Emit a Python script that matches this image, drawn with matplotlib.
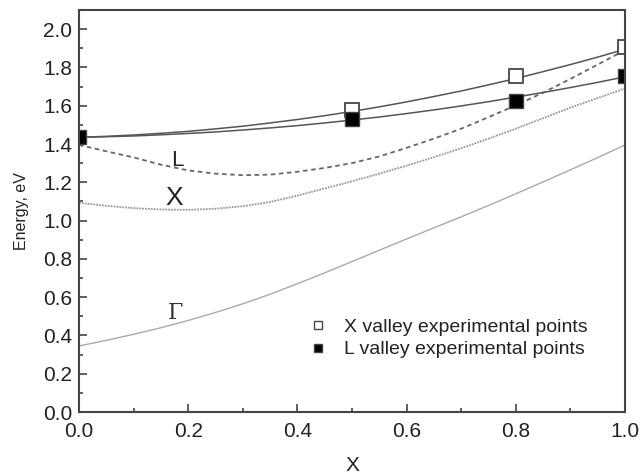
import matplotlib
matplotlib.use("Agg")
import matplotlib.pyplot as plt
from matplotlib.lines import Line2D
from matplotlib.ticker import MultipleLocator, FormatStrFormatter

plt.rcParams['font.family'] = ['Liberation Sans', 'DejaVu Sans']

# Composition grid for the calculated band edges
x = [0.00, 0.05, 0.10, 0.15, 0.20, 0.25, 0.30, 0.35, 0.40, 0.45, 0.50,
     0.55, 0.60, 0.65, 0.70, 0.75, 0.80, 0.85, 0.90, 0.95, 1.00]

# Calculated band edges (eV)
e_gamma = [0.345, 0.374, 0.406, 0.440, 0.478, 0.520, 0.565, 0.615, 0.670, 0.727, 0.786,
           0.845, 0.904, 0.962, 1.020, 1.079, 1.140, 1.202, 1.265, 1.329, 1.395]
e_x_calc = [1.093, 1.077, 1.065, 1.058, 1.056, 1.062, 1.075, 1.097, 1.130, 1.168, 1.205,
            1.245, 1.287, 1.331, 1.378, 1.428, 1.480, 1.535, 1.590, 1.640, 1.690]
e_l_calc = [1.395, 1.362, 1.330, 1.292, 1.262, 1.245, 1.237, 1.240, 1.255, 1.275, 1.300,
            1.335, 1.380, 1.428, 1.480, 1.540, 1.602, 1.668, 1.740, 1.815, 1.890]

# Fits through the experimental points
e_x_fit = [1.435, 1.440, 1.447, 1.456, 1.466, 1.479, 1.493, 1.510, 1.528, 1.548, 1.570,
           1.594, 1.620, 1.648, 1.677, 1.709, 1.742, 1.778, 1.815, 1.854, 1.895]
e_l_fit = [1.435, 1.438, 1.442, 1.448, 1.455, 1.463, 1.473, 1.484, 1.496, 1.510, 1.525,
           1.541, 1.559, 1.578, 1.599, 1.621, 1.645, 1.669, 1.695, 1.722, 1.751]

# Experimental points
x_exp_x = [0.5, 0.8, 1.0]
e_exp_x = [1.577, 1.755, 1.905]
x_exp_l = [0.0, 0.5, 0.8, 1.0]
e_exp_l = [1.438, 1.528, 1.625, 1.755]

legend_labels = ["X valley experimental points", "L valley experimental points"]

fig = plt.figure(figsize=(6.4, 4.76), dpi=100)
ax = fig.add_axes([79 / 640, 1 - 412 / 476, (625 - 79) / 640, (412 - 10) / 476])

dark = "#555555"
ax.plot(x, e_gamma, color="#aaaaaa", lw=1.0)
ax.plot(x, e_x_calc, color="#999999", lw=1.3, ls=(0, (1, 0.6)))
ax.plot(x, e_l_calc, color="#666666", lw=1.3, ls=(0, (2.5, 2.0)))
ax.plot(x, e_x_fit, color=dark, lw=1.1)
ax.plot(x, e_l_fit, color=dark, lw=1.1)

ax.plot(x_exp_x, e_exp_x, ls="none", marker="s", ms=10, mfc="white",
        mec="#444444", mew=1.3)
ax.plot(x_exp_l, e_exp_l, ls="none", marker="s", ms=10, mfc="black",
        mec="#444444", mew=1.0)

ax.text(0.18, 1.316, "L", fontsize=16, ha="center", va="center", color="#222222")
ax.text(0.174, 1.117, "X", fontsize=19, ha="center", va="center", color="#222222")
ax.text(0.176, 0.518, "Γ", fontsize=16, family="DejaVu Serif", ha="center",
        va="center", color="#333333")

handles = [
    Line2D([], [], ls="none", marker="s", ms=6, mfc="white", mec="#444444", mew=1.0),
    Line2D([], [], ls="none", marker="s", ms=6, mfc="black", mec="#444444", mew=1.0),
]
ax.legend(handles, legend_labels, loc="center left", bbox_to_anchor=(0.395, 0.183),
          frameon=False, fontsize=14, handlelength=1.0, handletextpad=0.85,
          labelspacing=0.25, labelcolor="#222222", borderpad=0.2)

ax.set_xlim(0, 1.0)
ax.set_ylim(0, 2.1)
ax.xaxis.set_major_locator(MultipleLocator(0.2))
ax.xaxis.set_minor_locator(MultipleLocator(0.1))
ax.yaxis.set_major_locator(MultipleLocator(0.2))
ax.yaxis.set_minor_locator(MultipleLocator(0.1))
ax.xaxis.set_major_formatter(FormatStrFormatter("%.1f"))
ax.yaxis.set_major_formatter(FormatStrFormatter("%.1f"))

ax.tick_params(which="both", direction="in", color="#444444", width=1.2,
               labelsize=15, labelcolor="#222222", top=False, right=False)
ax.tick_params(which="major", length=6)
ax.tick_params(axis="x", which="major", pad=7)
ax.tick_params(axis="y", which="major", pad=5)
ax.tick_params(which="minor", length=3)
for s in ax.spines.values():
    s.set_linewidth(1.5)
    s.set_color("#444444")

ax.set_xlabel("X", fontsize=15, color="#222222", labelpad=11)
ax.set_ylabel("Energy, eV", fontsize=11.5, color="#222222", labelpad=10)

fig.savefig("out.png", dpi=100)
